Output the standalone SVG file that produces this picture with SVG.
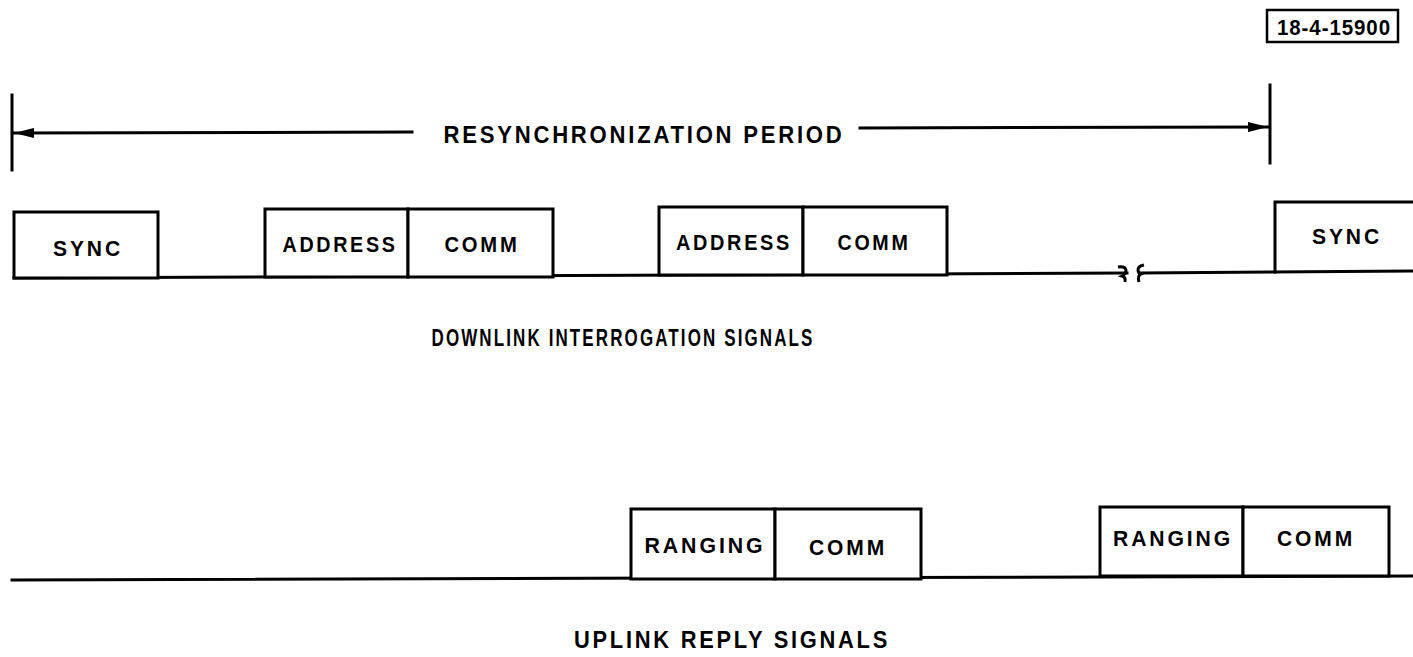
<svg xmlns="http://www.w3.org/2000/svg" width="1413" height="657" viewBox="0 0 1413 657">
<style>
.ln{fill:none;stroke:#000;stroke-width:3;stroke-linecap:square}
.bx{fill:#fff;stroke:#000;stroke-width:3}
.t{font-family:"Liberation Sans",Arial,sans-serif;font-weight:bold;fill:#000;text-anchor:middle;letter-spacing:3px}
.s{font-size:22px}
.l{font-size:24px}
</style>
<defs>
<marker id="ah" viewBox="0 0 20 10" refX="20" refY="5" markerWidth="20" markerHeight="10" markerUnits="userSpaceOnUse" orient="auto-start-reverse">
<path d="M0,0 L20,5 L0,10 Z" fill="#000"/>
</marker>
</defs>
<rect width="1413" height="657" fill="#fff"/>

<g id="figure-id">
<rect x="1267" y="10" width="131" height="32" fill="none" stroke="#000" stroke-width="2.5"/>
<text class="t" x="1334" y="35" font-size="22" style="letter-spacing:1px" textLength="114" lengthAdjust="spacingAndGlyphs">18-4-15900</text>
</g>

<g id="connectors">
<line class="ln" x1="12" y1="95" x2="12" y2="170"/>
<line class="ln" x1="1270" y1="85" x2="1270" y2="163"/>
<line class="ln" x1="412" y1="132" x2="14" y2="133" marker-end="url(#ah)"/>
<line class="ln" x1="860" y1="128" x2="1268" y2="127" marker-end="url(#ah)"/>
<polyline class="ln" points="14,278 1127,273"/>
<polyline class="ln" points="1140,273 1413,271"/>
<path d="M1118,267 q7,-1 8,3 q0,4 -4,6 q4,1 3,6" fill="none" stroke="#000" stroke-width="3"/>
<path d="M1144,265 q-6,1 -6,5 q0,3 3,4 q-4,2 -2,8" fill="none" stroke="#000" stroke-width="3"/>
<polyline class="ln" points="12,580 1413,576"/>
</g>

<g id="resync-label">
<text class="t l" x="644" y="143" textLength="401" lengthAdjust="spacingAndGlyphs">RESYNCHRONIZATION PERIOD</text>
</g>

<g id="sync1">
<rect class="bx" x="14" y="212" width="144" height="66"/>
<text class="t s" x="88" y="256" textLength="70" lengthAdjust="spacingAndGlyphs">SYNC</text>
</g>
<g id="address1">
<rect class="bx" x="265" y="209" width="143" height="68"/>
<text class="t s" x="340" y="252" textLength="115" lengthAdjust="spacingAndGlyphs">ADDRESS</text>
</g>
<g id="comm1">
<rect class="bx" x="408" y="209" width="145" height="68"/>
<text class="t s" x="482" y="252" textLength="75" lengthAdjust="spacingAndGlyphs">COMM</text>
</g>
<g id="address2">
<rect class="bx" x="659" y="207" width="144" height="68"/>
<text class="t s" x="734" y="250" textLength="116" lengthAdjust="spacingAndGlyphs">ADDRESS</text>
</g>
<g id="comm2">
<rect class="bx" x="803" y="207" width="144" height="68"/>
<text class="t s" x="874" y="250" textLength="73" lengthAdjust="spacingAndGlyphs">COMM</text>
</g>
<g id="sync2">
<path class="ln" d="M1275,272 V202 H1413"/>
<text class="t s" x="1347" y="244" textLength="70" lengthAdjust="spacingAndGlyphs">SYNC</text>
</g>

<g id="downlink-label">
<text class="t l" x="623" y="346" textLength="383" lengthAdjust="spacingAndGlyphs">DOWNLINK INTERROGATION SIGNALS</text>
</g>

<g id="ranging1">
<rect class="bx" x="631" y="509" width="144" height="70"/>
<text class="t s" x="705" y="553" textLength="121" lengthAdjust="spacingAndGlyphs">RANGING</text>
</g>
<g id="comm3">
<rect class="bx" x="775" y="509" width="146" height="70"/>
<text class="t s" x="848" y="555" textLength="78" lengthAdjust="spacingAndGlyphs">COMM</text>
</g>
<g id="ranging2">
<rect class="bx" x="1100" y="507" width="143" height="69"/>
<text class="t s" x="1173" y="546" textLength="120" lengthAdjust="spacingAndGlyphs">RANGING</text>
</g>
<g id="comm4">
<rect class="bx" x="1243" y="507" width="146" height="69"/>
<text class="t s" x="1316" y="546" textLength="78" lengthAdjust="spacingAndGlyphs">COMM</text>
</g>

<g id="uplink-label">
<text class="t l" x="732" y="648" textLength="316" lengthAdjust="spacingAndGlyphs">UPLINK REPLY SIGNALS</text>
</g>
</svg>
